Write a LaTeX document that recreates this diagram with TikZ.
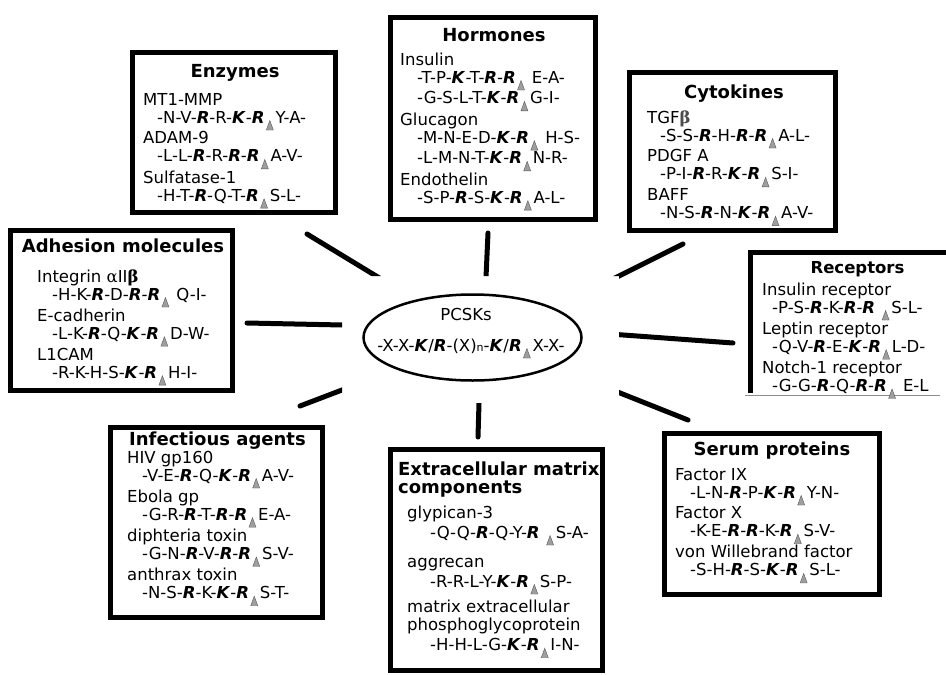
\documentclass[tikz,border=0pt]{standalone}
\usepackage{fontspec}
\setmainfont{DejaVu Sans}
\newfontfamily\grk{DejaVu Serif}
\usetikzlibrary{shapes.geometric}
\newcommand\RR{\textbf{\textit{R}}}
\newcommand\KK{\textbf{\textit{K}}}
\newcommand\tri{\kern1.5pt\tikz[baseline=0pt]\filldraw[fill=black!38,draw=black!65,line width=0.4pt](0pt,-7pt)--(7pt,-7pt)--(3.5pt,2.5pt)--cycle;\kern2pt}
\newlength\seqind
\newcommand\nm[1]{\hbox{#1}}
\newcommand\sq[1]{\hbox{\hspace*{\seqind}#1}}
\newcommand\blk[2]{\vtop{\seqind=#1\baselineskip=18pt\lineskiplimit=0pt\lineskip=1.5pt #2}}
\begin{document}
\begin{tikzpicture}[x=1pt,y=-1pt,
  pbox/.style={draw, line width=5pt, inner sep=0pt},
  ttl/.style={anchor=base, inner sep=0pt, font=\bfseries\fontsize{18}{20}\selectfont},
  body/.style={anchor=base west, inner sep=0pt, font=\fontsize{16.5}{18}\selectfont},
  spoke/.style={line width=5pt, line cap=round}]
\useasboundingbox[fill=white] (0,0) rectangle (946,675);

% boxes
\node[pbox, minimum width=203pt, minimum height=160pt] (enz) at (234,132.5) {};
\node[pbox, minimum width=205pt, minimum height=202pt] (hor) at (493,118.5) {};
\node[pbox, minimum width=206pt, minimum height=158pt] (cyt) at (732.5,151.5) {};
\node[pbox, minimum width=222pt, minimum height=160pt] (adh) at (121.5,310.5) {};
\node[pbox, minimum width=212pt, minimum height=190pt] (inf) at (216.5,522.5) {};
\node[pbox, minimum width=212pt, minimum height=221pt] (ecm) at (496.5,560) {};
\node[pbox, minimum width=215pt, minimum height=161pt] (ser) at (772,514) {};
\node[inner sep=0pt, minimum width=210pt, minimum height=140pt, anchor=north west] (rec) at (750.5,252.5) {};
\draw[line width=5pt, line join=miter] (rec.south west) -- (rec.north west) -- (rec.north east);
\coordinate (rb1) at (745,395);
\coordinate (rb2) at (940,395);
\draw[black!45, line width=0.8pt] (rb1) -- (rb2);

% central ellipse
\node[ellipse, draw, line width=2.5pt, minimum width=218pt, minimum height=86pt, inner sep=0pt] (pc) at (472.5,337.5) {};
\node[body, anchor=base] (pct) at (466,320) {PCSKs};
\node[body, anchor=base] (pcf) at (471,351) {-X-X-\KK/\RR-(X){\fontsize{11}{11}\selectfont n}-\KK/\RR\tri X-X-};

% titles
\node[ttl] (enzt) at (235,77) {Enzymes};
\node[ttl] (hort) at (494,41) {Hormones};
\node[ttl] (cytt) at (734,98) {Cytokines};
\node[ttl] (adht) at (123,252) {Adhesion molecules};
\node[ttl, font=\bfseries\fontsize{16.5}{18}\selectfont] (rect) at (857.5,273) {Receptors};
\node[ttl] (inft) at (217.5,445) {Infectious agents};
\node[ttl] (sert) at (772,455) {Serum proteins};
\node[ttl, anchor=base west] (ecmt) at (398,475) {\vtop{\baselineskip=18pt\hbox{Extracellular matrix}\hbox{components}}};

% bodies
\node[body] (enzb) at (143,105) {\blk{14pt}{%
  \nm{MT1-MMP}\sq{-N-V-\RR-R-\KK-\RR\tri Y-A-}%
  \nm{ADAM-9}\sq{-L-L-\RR-R-\RR-\RR\tri A-V-}%
  \nm{Sulfatase-1}\sq{-H-T-\RR-Q-T-\RR\tri S-L-}}};
\node[body] (horb) at (400,65) {\blk{17pt}{%
  \nm{Insulin}\sq{-T-P-\KK-T-\RR-\RR\tri\ E-A-}%
  \sq{-G-S-L-T-\KK-\RR\tri G-I-}%
  \nm{Glucagon}\sq{-M-N-E-D-\KK-\RR\tri\ H-S-}%
  \sq{-L-M-N-T-\KK-\RR\tri N-R-}%
  \nm{Endothelin}\sq{-S-P-\RR-S-\KK-\RR\tri A-L-}}};
\node[body] (cytb) at (647,123) {\blk{13pt}{%
  \nm{TGF{\grk\bfseries\color{black!70}β}}\sq{-S-S-\RR-H-\RR-\RR\tri A-L-}%
  \nm{PDGF A}\sq{-P-I-\RR-R-\KK-\RR\tri S-I-}%
  \nm{BAFF}\sq{-N-S-\RR-N-\KK-\RR\tri A-V-}}};
\node[body] (adhb) at (37,282) {\blk{15pt}{%
  \nm{Integrin {\grk α}II{\grk\bfseries β}}\sq{-H-K-\RR-D-\RR-\RR\tri\ Q-I-}%
  \nm{E-cadherin}\sq{-L-K-\RR-Q-\KK-\RR\tri D-W-}%
  \nm{L1CAM}\sq{-R-K-H-S-\KK-\RR\tri H-I-}}};
\node[body] (recb) at (762,295) {\blk{10pt}{%
  \nm{Insulin receptor}\sq{-P-S-\RR-K-\RR-\RR\ \tri S-L-}%
  \nm{Leptin receptor}\sq{-Q-V-\RR-E-\KK-\RR\tri L-D-}%
  \nm{Notch-1 receptor}\sq{-G-G-\RR-Q-\RR-\RR\tri\ E-L}}};
\node[body] (infb) at (127,463) {\blk{15pt}{%
  \nm{HIV gp160}\sq{-V-E-\RR-Q-\KK-\RR\tri A-V-}%
  \nm{Ebola gp}\sq{-G-R-\RR-T-\RR-\RR\tri E-A-}%
  \nm{diphteria toxin}\sq{-G-N-\RR-V-\RR-\RR\tri S-V-}%
  \nm{anthrax toxin}\sq{-N-S-\RR-K-\KK-\RR\tri S-T-}}};
\node[body] (ecmb) at (407,518) {\blk{23pt}{%
  \nm{glypican-3}\vskip2pt\sq{-Q-Q-\RR-Q-Y-\RR\ \tri S-A-}\vskip11pt
  \nm{aggrecan}\vskip2pt\sq{-R-R-L-Y-\KK-\RR\tri S-P-}\vskip4.5pt
  \nm{matrix extracellular}\nm{phosphoglycoprotein}\vskip2pt
  \sq{-H-H-L-G-\KK-\RR\tri I-N-}}};
\node[body] (serb) at (675,480) {\blk{15pt}{%
  \nm{Factor IX}\sq{-L-N-\RR-P-\KK-\RR\tri Y-N-}%
  \nm{Factor X}\sq{-K-E-\RR-\RR-K-\RR\tri S-V-}%
  \nm{von Willebrand factor}\sq{-S-H-\RR-S-\KK-\RR\tri S-L-}}};

% spokes: outer ends (a), inner ends (b) cut off by the clear zone round the ellipse
\coordinate (s1a) at (307,234); \coordinate (s1b) at (386,282);
\coordinate (s2a) at (488,233); \coordinate (s2b) at (485.7,284);
\coordinate (s3a) at (683,244); \coordinate (s3b) at (603,284);
\coordinate (s4a) at (247,323); \coordinate (s4b) at (352,325.2);
\coordinate (s5a) at (733,343); \coordinate (s5b) at (611,334.1);
\coordinate (s6a) at (300,406); \coordinate (s6b) at (352,386.2);
\coordinate (s7a) at (478,437); \coordinate (s7b) at (479.3,393);
\coordinate (s8a) at (688,420); \coordinate (s8b) at (609,388.6);
\begin{scope}
\clip (0,0) -- (946,0) -- (946,675) -- (0,675) -- cycle
      (342,276) -- (342,403) -- (619,403) -- (619,276) -- cycle;
\foreach \s in {1,...,8} \draw[spoke] (s\s a) -- (s\s b);
\end{scope}
\end{tikzpicture}
\end{document}
